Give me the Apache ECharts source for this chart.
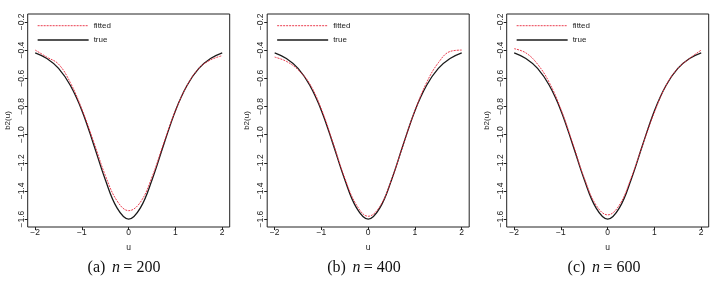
<!DOCTYPE html>
<html>
<head>
<meta charset="utf-8">
<script src="https://cdn.jsdelivr.net/npm/echarts@6/dist/echarts.min.js"></script>
<style>html,body{margin:0;padding:0;background:#fff;}#c{width:716px;height:288px;}</style>
</head>
<body>
<div id="c"></div>
<script>
var u = [-2,-1.75,-1.5,-1.25,-1,-0.75,-0.5,-0.25,0,0.25,0.5,0.75,1,1.25,1.5,1.75,2];
var trueCurve = [-0.42,-0.46,-0.53,-0.65,-0.83,-1.07,-1.32,-1.52,-1.60,-1.52,-1.32,-1.07,-0.83,-0.65,-0.53,-0.46,-0.42];
var fittedA = [-0.40,-0.45,-0.50,-0.63,-0.82,-1.05,-1.29,-1.47,-1.54,-1.48,-1.30,-1.06,-0.83,-0.65,-0.53,-0.47,-0.44];
var fittedB = [-0.45,-0.48,-0.54,-0.64,-0.82,-1.06,-1.31,-1.50,-1.58,-1.51,-1.32,-1.07,-0.83,-0.63,-0.49,-0.41,-0.40];
var fittedC = [-0.39,-0.42,-0.50,-0.63,-0.82,-1.06,-1.31,-1.50,-1.57,-1.50,-1.31,-1.07,-0.84,-0.65,-0.53,-0.46,-0.40];
var xTicks = [-2,-1,0,1,2];
var yTicks = [-1.6,-1.4,-1.2,-1.0,-0.8,-0.6,-0.4,-0.2];
var captions = [['(a)','200'],['(b)','400'],['(c)','600']];
var fitted = [fittedA, fittedB, fittedC];

var sans = 'Liberation Sans, Arial, Helvetica, sans-serif';
var grids = [], xAxes = [], yAxes = [], series = [], legends = [], graphics = [];
for (var i = 0; i < 3; i++) {
  var left = 27.7 + 239.5 * i;
  grids.push({left: left, top: 14, width: 202, height: 213, show: true, borderColor: '#222', borderWidth: 1, backgroundColor: 'transparent'});
  xAxes.push({
    type: 'value', gridIndex: i, min: -2.16, max: 2.16, position: 'bottom',
    name: 'u', nameLocation: 'middle', nameGap: 16,
    nameTextStyle: {fontFamily: sans, fontSize: 8.5, color: '#222'},
    axisLine: {show: false, onZero: false}, splitLine: {show: false},
    axisTick: {show: true, inside: false, length: 3, customValues: xTicks, lineStyle: {color: '#222'}},
    axisLabel: {customValues: xTicks, margin: 1, fontFamily: sans, fontSize: 8.5, color: '#222',
      formatter: function (v) { return String(v).replace('-', '\u2212'); }}
  });
  yAxes.push({
    type: 'value', gridIndex: i, min: -1.656, max: -0.144, position: 'left',
    name: 'b2(u)', nameLocation: 'middle', nameGap: 16, nameRotate: 90,
    nameTextStyle: {fontFamily: sans, fontSize: 8, color: '#222'},
    axisLine: {show: false, onZero: false}, splitLine: {show: false},
    axisTick: {show: true, inside: false, length: 3, customValues: yTicks, lineStyle: {color: '#222'}},
    axisLabel: {customValues: yTicks, rotate: 90, margin: 2, fontFamily: sans, fontSize: 8.5, color: '#222',
      formatter: function (v) { return v.toFixed(1).replace('-', '\u2212'); }}
  });
  var fd = [], td = [];
  for (var k = 0; k < u.length; k++) { fd.push([u[k], fitted[i][k]]); td.push([u[k], trueCurve[k]]); }
  series.push({name: 'fitted', type: 'line', xAxisIndex: i, yAxisIndex: i, data: fd, smooth: 0.4,
    symbol: 'none', lineStyle: {color: '#e8283c', width: 0.9, type: [2, 1]}, itemStyle: {color: '#e8283c'}, z: 3});
  series.push({name: 'true', type: 'line', xAxisIndex: i, yAxisIndex: i, data: td, smooth: 0.4,
    symbol: 'none', lineStyle: {color: '#1a1a1a', width: 1.3, type: 'solid'}, itemStyle: {color: '#1a1a1a'}, z: 2});
  legends.push({
    left: 37 + 239.5 * i, top: 21.7, orient: 'vertical', padding: 0, itemGap: 6.3,
    itemWidth: 51, itemHeight: 8, selectedMode: false,
    itemStyle: {opacity: 0},
    data: [
      {name: 'fitted', lineStyle: {color: '#e8283c', width: 0.9, type: [2, 1]}},
      {name: 'true', lineStyle: {color: '#1a1a1a', width: 1.3}}
    ],
    textStyle: {fontFamily: sans, fontSize: 8, color: '#222'}
  });
  graphics.push({
    type: 'text', x: 124 + 240 * i, y: 268,
    style: {
      text: '{a|' + captions[i][0] + '}  {i|n} {a|= ' + captions[i][1] + '}',
      align: 'center', verticalAlign: 'middle',
      rich: {
        a: {fontFamily: 'Liberation Serif, Times New Roman, serif', fontSize: 16, fill: '#111'},
        i: {fontFamily: 'Liberation Serif, Times New Roman, serif', fontSize: 16, fontStyle: 'italic', fill: '#111'}
      }
    }
  });
}

var chart = echarts.init(document.getElementById('c'), null, {renderer: 'canvas'});
chart.setOption({
  animation: false,
  backgroundColor: '#fff',
  grid: grids, xAxis: xAxes, yAxis: yAxes, series: series, legend: legends, graphic: graphics
});
</script>
</body>
</html>
